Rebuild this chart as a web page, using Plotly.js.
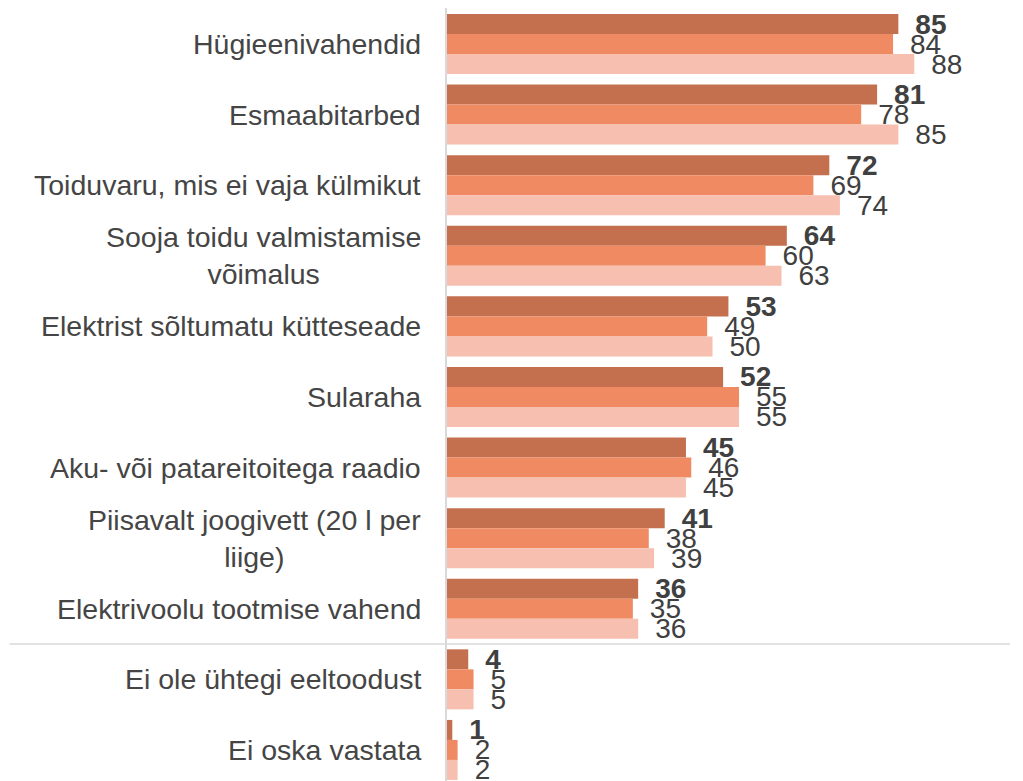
<!DOCTYPE html>
<html>
<head>
<meta charset="utf-8">
<script src="https://cdn.plot.ly/plotly-3.0.1.min.js"></script>
<style>html,body{margin:0;padding:0;background:#fff;}#chart{width:1023px;height:781px;}</style>
</head>
<body>
<div id="chart"></div>
<script>
const categories = [
  "Hügieenivahendid",
  "Esmaabitarbed",
  "Toiduvaru, mis ei vaja külmikut",
  "Sooja toidu valmistamise<br>võimalus",
  "Elektrist sõltumatu kütteseade",
  "Sularaha",
  "Aku- või patareitoitega raadio",
  "Piisavalt joogivett (20 l per<br>liige)",
  "Elektrivoolu tootmise vahend",
  "Ei ole ühtegi eeltoodust",
  "Ei oska vastata"
];
const series1 = [85, 81, 72, 64, 53, 52, 45, 41, 36, 4, 1];
const series2 = [84, 78, 69, 60, 49, 55, 46, 38, 35, 5, 2];
const series3 = [88, 85, 74, 63, 50, 55, 45, 39, 36, 5, 2];
const seriesNames = ["Seeria 1", "Seeria 2", "Seeria 3"];
const colors = ["#C4704F", "#F08A62", "#F6BFB0"];

const fontFamily = "Liberation Sans, Arial, sans-serif";
const textColor = "#404040";

function mk(vals, i, bold) {
  return {
    type: "bar",
    orientation: "h",
    name: seriesNames[i],
    y: categories,
    x: vals,
    marker: {color: colors[i]},
    text: vals.map(String),
    texttemplate: bold ? "\u2002<b>%{x}</b>" : "\u2002%{x}",
    textposition: "outside",
    constraintext: "none",
    cliponaxis: false,
    textfont: {family: fontFamily, size: 28, color: textColor},
    hoverinfo: "x+y"
  };
}

const data = [mk(series1, 0, true), mk(series2, 1, false), mk(series3, 2, false)];

const annotations = categories.map(c => ({
  xref: "paper", yref: "y",
  x: -0.046, y: c,
  xanchor: "right", yanchor: "middle",
  align: "center",
  text: c,
  showarrow: false,
  font: {family: fontFamily, size: 28.5, color: "#454545"}
}));

const layout = {
  width: 1023, height: 781,
  margin: {l: 447, r: 45, t: 8, b: 0},
  paper_bgcolor: "#ffffff",
  plot_bgcolor: "#ffffff",
  showlegend: false,
  barmode: "group",
  bargap: 0.15,
  bargroupgap: 0,
  xaxis: {range: [0, 100], showticklabels: false, showgrid: false, zeroline: false, showline: false, fixedrange: true},
  yaxis: {type: "category", range: [10.44, -0.51], showticklabels: false, showgrid: false, zeroline: false,
          showline: true, linecolor: "#d9d9d9", linewidth: 2, ticks: "", fixedrange: true},
  annotations: annotations,
  shapes: [{
    type: "line", xref: "paper", yref: "y",
    x0: -0.824, x1: 1.06, y0: 8.5, y1: 8.5,
    line: {color: "#d9d9d9", width: 1.5}
  }]
};

Plotly.newPlot("chart", data, layout, {displayModeBar: false, staticPlot: true});
</script>
</body>
</html>
